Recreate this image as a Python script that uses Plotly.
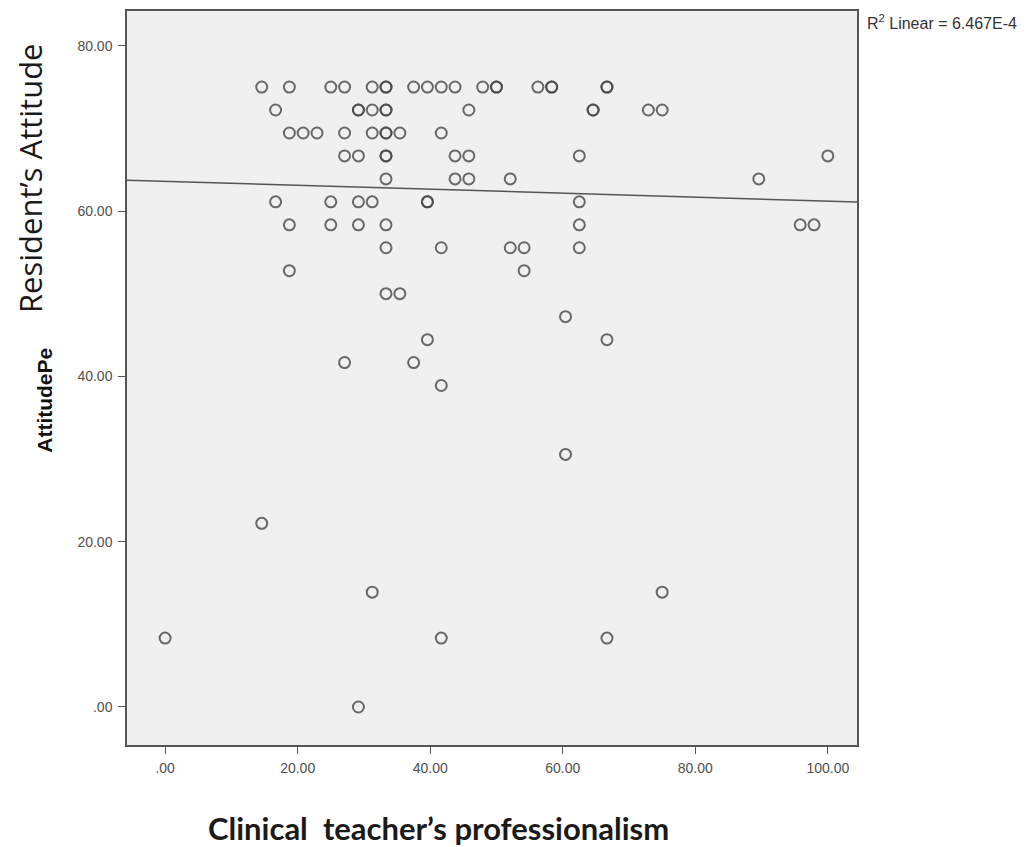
import plotly.graph_objects as go

# Data (scores on a 0-100 scale)
professionalism = [
    14.58, 18.75, 25.0, 27.08, 31.25, 33.33, 33.33, 37.5, 39.58, 41.67, 43.75, 47.92, 50.0, 50.0, 56.25, 58.33, 58.33, 66.67, 66.67,
    16.67, 29.17, 29.17, 31.25, 33.33, 33.33, 45.83, 64.58, 64.58, 72.92, 75.0,
    18.75, 20.83, 22.92, 27.08, 31.25, 33.33, 33.33, 35.42, 41.67,
    27.08, 29.17, 33.33, 33.33, 43.75, 45.83, 62.5, 100.0,
    33.33, 43.75, 45.83, 52.08, 89.58,
    16.67, 25.0, 29.17, 31.25, 39.58, 39.58, 62.5,
    18.75, 25.0, 29.17, 33.33, 62.5, 95.83, 97.92,
    33.33, 41.67, 52.08, 54.17, 62.5,
    18.75, 54.17,
    33.33, 35.42,
    60.42,
    39.58, 66.67,
    27.08, 37.5,
    41.67,
    60.42,
    14.58,
    31.25, 75.0,
    0.0, 41.67, 66.67,
    29.17,
]
attitude = (
    [75.0] * 19 + [72.22] * 11 + [69.44] * 9 + [66.67] * 8 + [63.89] * 5 +
    [61.11] * 7 + [58.33] * 7 + [55.56] * 5 + [52.78] * 2 + [50.0] * 2 +
    [47.22] * 1 + [44.44] * 2 + [41.67] * 2 + [38.89] * 1 + [30.56] * 1 +
    [22.22] * 1 + [13.89] * 2 + [8.33] * 3 + [0.0] * 1
)

# Linear fit line
fit_intercept = 63.6
fit_slope = -0.024
r2_label = "R<sup>2</sup> Linear = 6.467E-4"

x_ticks = [0, 20, 40, 60, 80, 100]
x_tick_labels = [".00", "20.00", "40.00", "60.00", "80.00", "100.00"]
y_ticks = [0, 20, 40, 60, 80]
y_tick_labels = [".00", "20.00", "40.00", "60.00", "80.00"]

x_range = [-5.75, 104.4]
y_range = [-4.6, 84.2]

fig = go.Figure()

fig.add_trace(go.Scatter(
    x=professionalism, y=attitude, mode="markers",
    marker=dict(symbol="circle-open", size=11, color="rgba(70,70,70,0.8)",
                line=dict(width=2, color="rgba(70,70,70,0.8)")),
    showlegend=False, hoverinfo="x+y",
))

fit_x = x_range
fit_y = [fit_intercept + fit_slope * v for v in fit_x]
fig.add_trace(go.Scatter(
    x=fit_x, y=fit_y, mode="lines",
    line=dict(color="#555555", width=1.5),
    showlegend=False, hoverinfo="skip",
))

fig.update_layout(
    width=1025, height=839,
    margin=dict(l=119, r=176, t=1, b=102),
    paper_bgcolor="white",
    plot_bgcolor="#f0f0f0",
    font=dict(family="Liberation Sans, Arial, sans-serif", size=12, color="#333333"),
    xaxis=dict(
        range=x_range, tickvals=x_ticks, ticktext=x_tick_labels,
        showgrid=False, zeroline=False, showline=True, mirror=True,
        linecolor="#555555", linewidth=1.5, ticks="outside", ticklen=7,
        tickcolor="#555555", tickfont=dict(size=14, color="#505050"),
        ticklabelstandoff=2,
    ),
    yaxis=dict(
        range=y_range, tickvals=y_ticks, ticktext=y_tick_labels,
        showgrid=False, zeroline=False, showline=True, mirror=True,
        linecolor="#555555", linewidth=1.5, ticks="outside", ticklen=7,
        tickcolor="#555555", tickfont=dict(size=14, color="#505050"),
        ticklabelstandoff=3,
    ),
    annotations=[
        dict(text=r2_label, xref="paper", yref="paper", x=1.011, y=0.985,
             xanchor="left", yanchor="middle", showarrow=False,
             font=dict(size=16, color="#333333", family="Liberation Sans, Arial, sans-serif")),
        dict(text="<b>AttitudePe</b>", xref="paper", yref="paper", x=-0.1123, y=0.469,
             xanchor="center", yanchor="middle", showarrow=False, textangle=-90,
             font=dict(size=21, color="#111111", family="Liberation Sans Narrow, Arial Narrow, sans-serif")),
        dict(text="Resident’s Attitude", xref="paper", yref="paper", x=-0.1336, y=0.773,
             xanchor="center", yanchor="middle", showarrow=False, textangle=-90,
             font=dict(size=31, color="#1a1a1a", family="Open Sans, sans-serif")),
        dict(text="<b>Clinical  teacher’s professionalism</b>", xref="paper", yref="paper", x=0.427, y=-0.1128,
             xanchor="center", yanchor="middle", showarrow=False,
             font=dict(size=31, color="#1a1a1a", family="Lato, Open Sans, sans-serif")),
    ],
)

fig.write_html("out.html")
